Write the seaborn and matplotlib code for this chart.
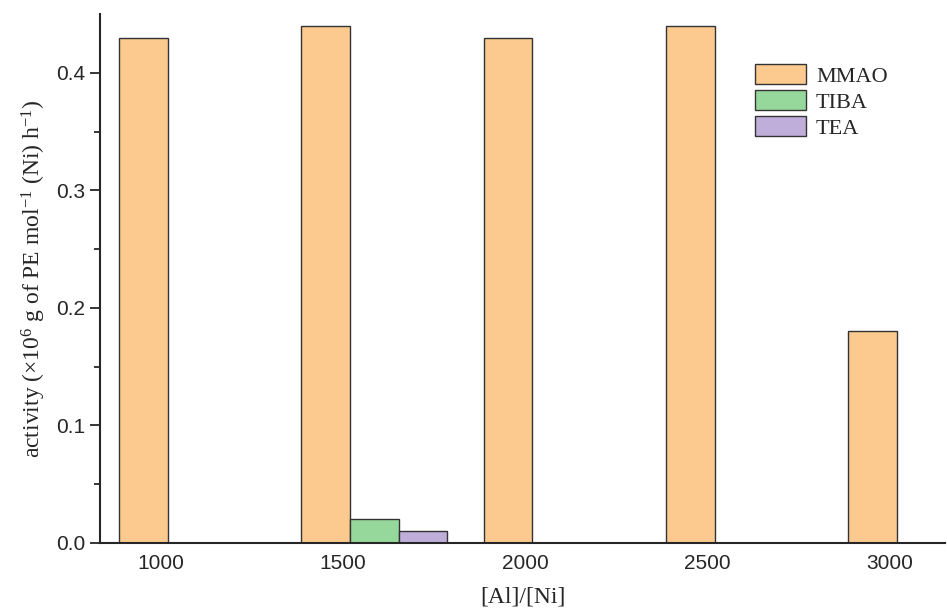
import numpy as np
import pandas as pd
import seaborn as sns
import matplotlib.pyplot as plt

# 数据
ratios = ["1000", "1500", "2000", "2500", "3000"]
mmao = [0.43, 0.44, 0.43, 0.44, 0.18]
tiba = [np.nan, 0.02, np.nan, np.nan, np.nan]
tea = [np.nan, 0.01, np.nan, np.nan, np.nan]
cocats = ["MMAO", "TIBA", "TEA"]
colors = ["#FCC98F", "#96D89B", "#BFAEDA"]

df = pd.DataFrame({
    "ratio": ratios * 3,
    "cocat": [c for c in cocats for _ in ratios],
    "activity": mmao + tiba + tea,
})

sns.set_style("ticks")
plt.rcParams['font.family'] = ['Liberation Sans', 'DejaVu Sans']
plt.rcParams['mathtext.fontset'] = 'custom'
plt.rcParams['mathtext.rm'] = 'Liberation Serif'
plt.rcParams['mathtext.it'] = 'Liberation Serif:italic'

fig = plt.figure(figsize=(9.47, 6.09), dpi=100)
ax = fig.add_axes([100 / 947, 66 / 609, 845 / 947, 529 / 609])

sns.barplot(data=df, x="ratio", y="activity", hue="cocat", hue_order=cocats,
            palette=colors, width=0.8, edgecolor="#333333", linewidth=1.0,
            saturation=1, ax=ax)

ax.set_xlim(-0.505, 4.13)
ax.set_ylim(0, 0.45)
ax.set_yticks([0.0, 0.1, 0.2, 0.3, 0.4])
ax.set_yticks(np.arange(0.05, 0.45, 0.1), minor=True)
ax.set_xticks([i - 0.174 for i in range(len(ratios))])
ax.set_xticklabels(ratios)
ax.tick_params(axis="y", which="major", length=7, width=1.3, labelsize=15, direction="out")
ax.tick_params(axis="y", which="minor", length=4, width=1.3, direction="out")
ax.tick_params(axis="x", length=0, pad=8, labelsize=15)
sns.despine(ax=ax)
for s in ["left", "bottom"]:
    ax.spines[s].set_linewidth(1.5)

ax.set_xlabel("[Al]/[Ni]", family="Liberation Serif", fontsize=17, labelpad=10)
ax.set_ylabel(r"activity ($\mathrm{\times}$10$^{\mathrm{6}}$ g of PE mol$^{\mathrm{-1}}$ (Ni) h$^{\mathrm{-1}}$)",
              family="Liberation Serif", fontsize=17, labelpad=6)

leg = ax.legend(loc="upper left", bbox_to_anchor=(0.775, 0.905), frameon=False,
                handlelength=2.3, handleheight=1.0, labelspacing=0.15,
                handletextpad=0.45, borderpad=0, borderaxespad=0,
                prop={"family": "Liberation Serif", "size": 16})
for h in leg.get_patches():
    h.set_edgecolor("#333333")

fig.savefig("out.png", dpi=100)
